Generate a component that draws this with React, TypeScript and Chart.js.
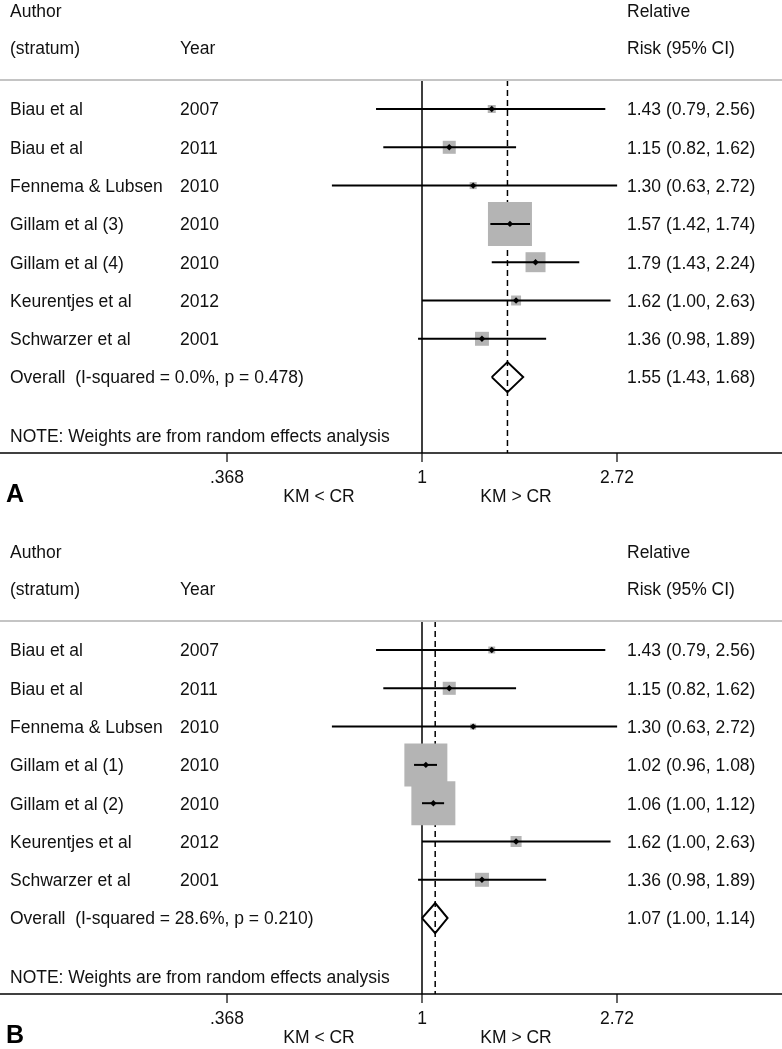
import React, { useEffect, useRef } from "react";
import { Chart, registerables } from "chart.js";

Chart.register(...registerables);

// ---------- Data: panel A ----------
const authorsA = ["Biau et al", "Biau et al", "Fennema & Lubsen", "Gillam et al (3)", "Gillam et al (4)", "Keurentjes et al", "Schwarzer et al"];
const yearsA = ["2007", "2011", "2010", "2010", "2010", "2012", "2001"];
const rrA = [1.43, 1.15, 1.3, 1.57, 1.79, 1.62, 1.36];
const loA = [0.79, 0.82, 0.63, 1.42, 1.43, 1.0, 0.98];
const hiA = [2.56, 1.62, 2.72, 1.74, 2.24, 2.63, 1.89];
const weightsA = [2.2, 5.8, 1.7, 66.4, 13.7, 3.4, 6.7];
const overallA = [1.55, 1.43, 1.68];
const hetA = ["0.0%", "0.478"];

// ---------- Data: panel B ----------
const authorsB = ["Biau et al", "Biau et al", "Fennema & Lubsen", "Gillam et al (1)", "Gillam et al (2)", "Keurentjes et al", "Schwarzer et al"];
const yearsB = ["2007", "2011", "2010", "2010", "2010", "2012", "2001"];
const rrB = [1.43, 1.15, 1.3, 1.02, 1.06, 1.62, 1.36];
const loB = [0.79, 0.82, 0.63, 0.96, 1.0, 1.0, 0.98];
const hiB = [2.56, 1.62, 2.72, 1.08, 1.12, 2.63, 1.89];
const weightsB = [1.1, 3.9, 0.8, 42.4, 44.4, 2.8, 4.5];
const overallB = [1.07, 1.0, 1.14];
const hetB = ["28.6%", "0.210"];

// ---------- Axis ----------
const tickValues = [0.3679, 1, 2.7183];
const tickLabels = [".368", "1", "2.72"];
const sideLabels = ["KM < CR", "KM > CR"];
const headLeft = ["Author", "(stratum)"];
const headYear = "Year";
const headRight = ["Relative", "Risk (95% CI)"];
const noteText = "NOTE: Weights are from random effects analysis";

// ---------- Layout ----------
const W = 782;
const X_ONE_PX = 422;
const PX_PER_LOG = 195;
const ROW0_PX = 109;
const ROW_PX = 38.3;
const TOP_LINE_PX = 80;
const AXIS_PX = 453;
const BOX_MAX = 44;
const FONT = '17.5px "Liberation Sans", Arial, sans-serif';
const TEXT_COLOR = "#111";

type PanelProps = {
  letter: string;
  authors: string[];
  years: string[];
  rr: number[];
  lo: number[];
  hi: number[];
  weights: number[];
  overall: number[];
  het: string[];
  top: number;
  height: number;
};

function fmt(v: number) {
  return v.toFixed(2);
}

function Panel(props: PanelProps) {
  const ref = useRef<HTMLCanvasElement | null>(null);
  const { letter, authors, years, rr, lo, hi, weights, overall, het, top, height } = props;

  useEffect(() => {
    const canvas = ref.current;
    if (!canvas) return;
    const H = height;
    const yMin = -ROW0_PX / ROW_PX;
    const yMax = (H - ROW0_PX) / ROW_PX;
    const xMin = Math.exp(-X_ONE_PX / PX_PER_LOG);
    const xMax = Math.exp((W - X_ONE_PX) / PX_PER_LOG);
    const vTop = (TOP_LINE_PX - ROW0_PX) / ROW_PX;
    const vAxis = (AXIS_PX - ROW0_PX) / ROW_PX;
    const n = authors.length;
    const ovRow = n;
    const dh = 15 / ROW_PX;
    const wMax = Math.max(...weights);

    const datasets: any[] = [];
    datasets.push({
      data: [{ x: 1, y: vTop }, { x: 1, y: vAxis }],
      showLine: true, borderColor: "#000", borderWidth: 1.5, pointRadius: 0, order: 20,
    });
    datasets.push({
      data: [{ x: overall[0], y: vTop }, { x: overall[0], y: vAxis }],
      showLine: true, borderColor: "#000", borderWidth: 1.5, borderDash: [6, 4], pointRadius: 0, order: 19,
    });
    datasets.push({
      data: rr.map((v, i) => ({ x: v, y: i })),
      showLine: false,
      pointStyle: "rect",
      pointRadius: weights.map((w) => (BOX_MAX * Math.sqrt(w / wMax)) / Math.SQRT2),
      pointBackgroundColor: "#b4b4b4",
      pointBorderWidth: 0,
      order: 18,
    });
    for (let i = 0; i < n; i++) {
      datasets.push({
        data: [{ x: lo[i], y: i }, { x: hi[i], y: i }],
        showLine: true, borderColor: "#000", borderWidth: 2, pointRadius: 0, borderCapStyle: "butt", order: 10,
      });
    }
    datasets.push({
      data: rr.map((v, i) => ({ x: v, y: i })),
      showLine: false,
      pointStyle: "rectRot",
      pointRadius: 3.2,
      pointBackgroundColor: "#000",
      pointBorderWidth: 0,
      order: 5,
    });
    datasets.push({
      data: [
        { x: overall[1], y: ovRow },
        { x: overall[0], y: ovRow - dh },
        { x: overall[2], y: ovRow },
        { x: overall[0], y: ovRow + dh },
        { x: overall[1], y: ovRow },
      ],
      showLine: true, borderColor: "#000", borderWidth: 2, pointRadius: 0, fill: false,
      borderJoinStyle: "miter", order: 1,
    });

    const textPlugin = {
      id: "forestText",
      afterDatasetsDraw(chart: any) {
        const ctx = chart.ctx as CanvasRenderingContext2D;
        const xs = chart.scales.x;
        const ys = chart.scales.y;
        ctx.save();
        // header line
        ctx.strokeStyle = "#c4c4c4";
        ctx.lineWidth = 2;
        const yLine = ys.getPixelForValue(vTop);
        ctx.beginPath();
        ctx.moveTo(0, yLine);
        ctx.lineTo(W, yLine);
        ctx.stroke();
        // axis line
        const yAx = ys.getPixelForValue(vAxis);
        ctx.strokeStyle = "#000";
        ctx.lineWidth = 1.5;
        ctx.beginPath();
        ctx.moveTo(0, yAx);
        ctx.lineTo(W, yAx);
        ctx.stroke();
        ctx.lineWidth = 1.2;
        tickValues.forEach((t) => {
          const px = xs.getPixelForValue(t);
          ctx.beginPath();
          ctx.moveTo(px, yAx);
          ctx.lineTo(px, yAx + 9);
          ctx.stroke();
        });
        // texts
        ctx.fillStyle = TEXT_COLOR;
        ctx.font = FONT;
        ctx.textBaseline = "alphabetic";
        ctx.textAlign = "left";
        ctx.fillText(headLeft[0], 10, 16.5);
        ctx.fillText(headLeft[1], 10, 54);
        ctx.fillText(headYear, 180, 54);
        ctx.fillText(headRight[0], 627, 16.5);
        ctx.fillText(headRight[1], 627, 54);
        for (let i = 0; i < n; i++) {
          const y = ys.getPixelForValue(i) + 6.3;
          ctx.fillText(authors[i], 10, y);
          ctx.fillText(years[i], 180, y);
          ctx.fillText(`${fmt(rr[i])} (${fmt(lo[i])}, ${fmt(hi[i])})`, 627, y);
        }
        const yo = ys.getPixelForValue(ovRow) + 6.3;
        ctx.fillText(`Overall  (I-squared = ${het[0]}, p = ${het[1]})`, 10, yo);
        ctx.fillText(`${fmt(overall[0])} (${fmt(overall[1])}, ${fmt(overall[2])})`, 627, yo);
        ctx.fillText(noteText, 10, yAx - 11);
        ctx.textAlign = "center";
        tickValues.forEach((t, k) => {
          ctx.fillText(tickLabels[k], xs.getPixelForValue(t), yAx + 30);
        });
        ctx.fillText(sideLabels[0], 319, yAx + 48.5);
        ctx.fillText(sideLabels[1], 516, yAx + 48.5);
        ctx.textAlign = "left";
        ctx.font = 'bold 25px "Liberation Sans", Arial, sans-serif';
        ctx.fillStyle = "#000";
        ctx.fillText(letter, 6, yAx + 49);
        ctx.restore();
      },
    };

    const chart = new Chart(canvas, {
      type: "scatter",
      data: { datasets },
      options: {
        animation: false,
        responsive: false,
        events: [],
        layout: { padding: 0, autoPadding: false },
        plugins: { legend: { display: false }, tooltip: { enabled: false } },
        scales: {
          x: { type: "logarithmic", display: false, min: xMin, max: xMax, bounds: "data" },
          y: { type: "linear", display: false, reverse: true, min: yMin, max: yMax, bounds: "data" },
        },
      },
      plugins: [textPlugin],
    } as any);
    return () => chart.destroy();
  }, [letter, authors, years, rr, lo, hi, weights, overall, het, height]);

  return (
    <canvas
      ref={ref}
      width={W}
      height={height}
      style={{ position: "absolute", left: 0, top, width: W, height, display: "block" }}
    />
  );
}

export default function App() {
  return (
    <div style={{ position: "fixed", left: 0, top: 0, width: W, height: 1049, overflow: "hidden", background: "#fff" }}>
      <Panel letter="A" authors={authorsA} years={yearsA} rr={rrA} lo={loA} hi={hiA} weights={weightsA} overall={overallA} het={hetA} top={0} height={541} />
      <Panel letter="B" authors={authorsB} years={yearsB} rr={rrB} lo={loB} hi={hiB} weights={weightsB} overall={overallB} het={hetB} top={541} height={508} />
    </div>
  );
}
